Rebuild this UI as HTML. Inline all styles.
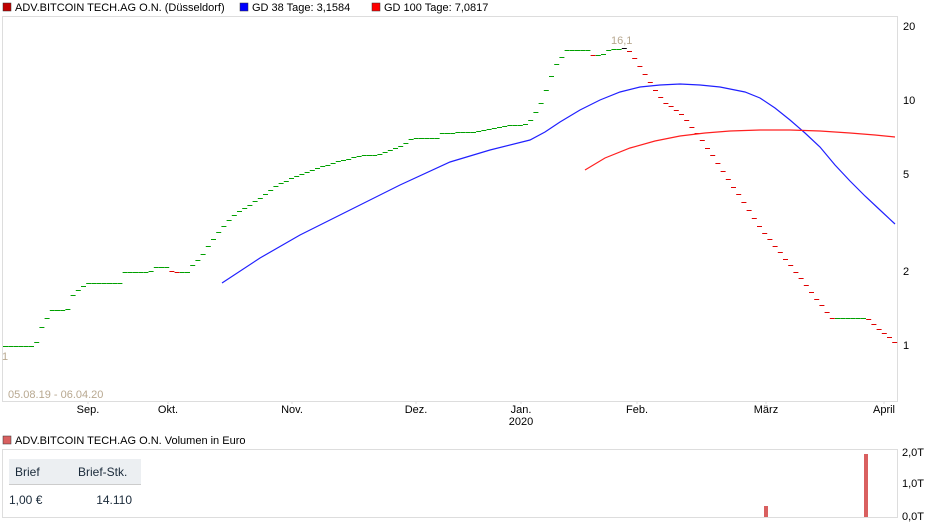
<!DOCTYPE html><html><head><meta charset="utf-8"><style>
body{margin:0;width:940px;height:526px;background:#fff;font-family:"Liberation Sans",sans-serif;overflow:hidden}
</style></head><body>
<svg width="940" height="526" xmlns="http://www.w3.org/2000/svg" style="position:absolute;left:0;top:0" font-family="Liberation Sans, sans-serif">
<g font-size="11" fill="#000">
<rect x="3" y="3" width="8" height="8" fill="#c00000" stroke="#333" stroke-width="0.5"/><text x="15" y="11">ADV.BITCOIN TECH.AG O.N. (Düsseldorf)</text>
<rect x="240" y="3" width="8" height="8" fill="#0000ff" stroke="#333" stroke-width="0.5"/><text x="252" y="11">GD 38 Tage: 3,1584</text>
<rect x="372" y="3" width="8" height="8" fill="#ff0000" stroke="#333" stroke-width="0.5"/><text x="384" y="11">GD 100 Tage: 7,0817</text>
</g>
<rect x="2.5" y="16.5" width="895" height="385" fill="none" stroke="#ddd"/>
<g font-size="11" text-anchor="start"><text x="903" y="30">20</text><text x="903" y="104">10</text><text x="903" y="178">5</text><text x="903" y="275">2</text><text x="903" y="349">1</text></g>
<g font-size="11" text-anchor="middle"><text x="88" y="413">Sep.</text><text x="168" y="413">Okt.</text><text x="292" y="413">Nov.</text><text x="416" y="413">Dez.</text><text x="521" y="413">Jan.</text><text x="521" y="425">2020</text><text x="637" y="413">Feb.</text><text x="766" y="413">März</text><text x="884" y="413">April</text></g>
<g stroke="#ddd"><line x1="88" y1="401" x2="88" y2="404"/><line x1="168" y1="401" x2="168" y2="404"/><line x1="292" y1="401" x2="292" y2="404"/><line x1="416" y1="401" x2="416" y2="404"/><line x1="521" y1="401" x2="521" y2="404"/><line x1="637" y1="401" x2="637" y2="404"/><line x1="766" y1="401" x2="766" y2="404"/><line x1="884" y1="401" x2="884" y2="404"/></g>
<text x="8" y="398" font-size="11" fill="#b8a890">05.08.19 - 06.04.20</text>
<text x="2" y="360" font-size="11" fill="#b8a890">1</text>
<text x="611" y="44" font-size="11" fill="#b8a890">16,1</text>
<g id="price"></g>
<polyline fill="none" stroke="#2020ff" stroke-width="1.2" points="222,283 260,258 300,235 350,210 400,185 450,162 490,150 530,140 545,132 560,122 580,110 600,100 620,92 640,87 660,85 680,84 700,85 720,87 745,92 760,98 775,108 790,120 805,133 820,147 835,165 850,181 865,196 880,210 895,224"/>
<polyline fill="none" stroke="#ff2020" stroke-width="1.2" points="585,170 605,158 630,148 655,141 680,136 705,133 730,131 760,130 790,130 820,131 850,133 875,135 895,137"/>
<g font-size="11"><rect x="3" y="436" width="8" height="8" fill="#d96060" stroke="#333" stroke-width="0.5"/><text x="15" y="444">ADV.BITCOIN TECH.AG O.N. Volumen in Euro</text></g>
<rect x="2.5" y="449.5" width="895" height="68" fill="none" stroke="#ddd"/>
<g font-size="11"><text x="902" y="456">2,0T</text><text x="902" y="487">1,0T</text><text x="902" y="520">0,0T</text></g>
<rect x="764" y="506" width="4" height="11" fill="#d96060"/>
<rect x="864" y="454" width="4" height="63" fill="#d96060"/>
<rect x="9" y="459" width="132" height="26" fill="#eceff2"/>
<line x1="9" y1="484.5" x2="141" y2="484.5" stroke="#ccc"/>
<g font-size="12" fill="#1a2a3a"><text x="15" y="476">Brief</text><text x="78" y="476">Brief-Stk.</text><text x="9" y="504">1,00 €</text><text x="132" y="504" text-anchor="end">14.110</text></g>
</svg>
<script>
var pts=[[3,346],[30,346],[36,340],[40,325],[50,310],[65,310],[70,295],[85,283],[118,283],[122,272],[148,272],[152,267],[165,267],[170,272],[185,272],[190,265],[200,255],[210,240],[222,225],[235,212],[250,203],[262,195],[275,185],[290,178],[310,170],[330,163],[360,155],[375,155],[400,145],[410,138],[435,138],[440,133],[470,132],[500,126],[525,124],[532,115],[540,100],[548,78],[555,62],[565,50],[585,50],[590,55],[600,55],[605,50],[625,48],[630,55],[640,70],[650,85],[660,100],[680,115],[700,140],[720,170],[740,200],[760,230],[780,255],[800,280],[815,300],[830,318],[865,318],[872,325],[885,335],[895,345]];
function yAt(x){for(var i=0;i<pts.length-1;i++){if(x>=pts[i][0]&&x<=pts[i+1][0]){var a=pts[i],b=pts[i+1];return a[1]+(b[1]-a[1])*(x-a[0])/(b[0]-a[0]||1);}}return 345;}
var g=document.getElementById('price'),s='',prev=null;
for(var x=3;x<=893;x+=5.2){var y=Math.round(yAt(x))+0.5;var c=(prev!==null&&y>prev+0.4)?'#e00000':'#00a000';if(Math.abs(x-621)<3)c='#000';s+='<line x1="'+x.toFixed(1)+'" y1="'+y+'" x2="'+(x+5).toFixed(1)+'" y2="'+y+'" stroke="'+c+'" stroke-width="1"/>';prev=y;}
g.innerHTML=s;
</script>
</body></html>
